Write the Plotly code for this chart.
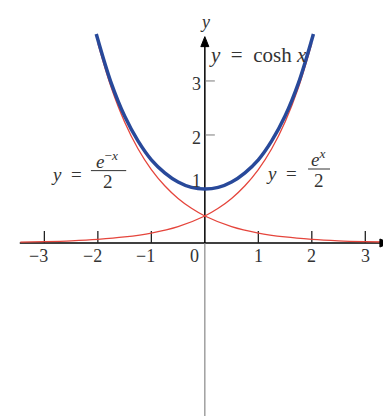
import plotly.graph_objects as go

# Kurvenwerte
x_cosh = [-2.03, -1.75, -1.5, -1.25, -1.0, -0.75, -0.5, -0.25, 0.0,
          0.25, 0.5, 0.75, 1.0, 1.25, 1.5, 1.75, 2.03]
y_cosh = [3.87, 2.96, 2.35, 1.89, 1.54, 1.30, 1.13, 1.03, 1.00,
          1.03, 1.13, 1.30, 1.54, 1.89, 2.35, 2.96, 3.87]

x_exp = [-3.45, -3.0, -2.5, -2.0, -1.5, -1.0, -0.5, 0.0,
         0.25, 0.5, 0.75, 1.0, 1.25, 1.5, 1.75, 2.0]
y_exp = [0.016, 0.025, 0.041, 0.068, 0.112, 0.184, 0.303, 0.500,
         0.642, 0.824, 1.059, 1.359, 1.745, 2.241, 2.877, 3.695]

x_expneg = [-2.0, -1.75, -1.5, -1.25, -1.0, -0.75, -0.5, -0.25,
            0.0, 0.5, 1.0, 1.5, 2.0, 2.5, 3.0, 3.45]
y_expneg = [3.695, 2.877, 2.241, 1.745, 1.359, 1.059, 0.824, 0.642,
            0.500, 0.303, 0.184, 0.112, 0.068, 0.041, 0.025, 0.016]

xticks = [-3, -2, -1, 0, 1, 2, 3]
xtick_labels = ['\u22123', '\u22122', '\u22121', '0', '1', '2', '3']
yticks = [1, 2, 3]
ytick_labels = ['1', '2', '3']

blue = '#28499A'
red = '#E5453C'
txt = '#333333'
serif = 'Liberation Serif'

fig = go.Figure()

fig.add_trace(go.Scatter(x=x_exp, y=y_exp, mode='lines', line=dict(color=red, width=1.3, shape='spline')))
fig.add_trace(go.Scatter(x=x_expneg, y=y_expneg, mode='lines', line=dict(color=red, width=1.3, shape='spline')))
fig.add_trace(go.Scatter(x=x_cosh, y=y_cosh, mode='lines', line=dict(color=blue, width=3.5, shape='spline')))

# Achsen mit Pfeilspitzen
fig.add_shape(type='line', x0=-3.46, x1=3.4, y0=0, y1=0, xref='x', yref='y',
              line=dict(color='black', width=1.5), layer='below')
fig.add_shape(type='line', x0=0, x1=0, y0=0, y1=3.75, xref='x', yref='y',
              line=dict(color='black', width=1.5), layer='below')
fig.add_shape(type='line', x0=0, x1=0, y0=-3.3, y1=0, xref='x', yref='y',
              line=dict(color='#888888', width=1.2), layer='below')
fig.add_shape(type='path', xref='x', yref='y', xsizemode='pixel', ysizemode='pixel',
              xanchor=3.46, yanchor=0, path='M 0,0 L -10,4 L -10,-4 Z',
              fillcolor='black', line=dict(color='black', width=1))
fig.add_shape(type='path', xref='x', yref='y', xsizemode='pixel', ysizemode='pixel',
              xanchor=0, yanchor=3.82, path='M 0,0 L -4,-10 L 4,-10 Z',
              fillcolor='black', line=dict(color='black', width=1))
fig.add_annotation(x=0, y=4.1, text='<i>y</i>', showarrow=False,
                   font=dict(family=serif, size=18, color=txt))
fig.add_annotation(x=3.55, y=0, text='<i>x</i>', showarrow=False, xanchor='left',
                   font=dict(family=serif, size=18, color=txt))

# Striche und Beschriftungen
for v, lab in zip(xticks, xtick_labels):
    if v != 0:
        fig.add_shape(type='line', xref='x', yref='y', x0=v, x1=v,
                      ysizemode='pixel', yanchor=0, y0=0, y1=12,
                      line=dict(color='#222222', width=1.3), layer='below')
    if v < 0:
        anchor, shift = 'right', 6
    elif v == 0:
        anchor, shift = 'right', -4
    else:
        anchor, shift = 'center', 0
    fig.add_annotation(x=v, y=0, text=lab, showarrow=False, xanchor=anchor, xshift=shift,
                       yanchor='top', yshift=-1,
                       font=dict(family=serif, size=18, color=txt))

for v, lab in zip(yticks, ytick_labels):
    if v != 1:
        fig.add_shape(type='line', xref='x', yref='y', y0=v, y1=v,
                      xsizemode='pixel', xanchor=0, x0=1, x1=10,
                      line=dict(color='#999999', width=1.3), layer='below')
    fig.add_annotation(x=0, y=v, text=lab, showarrow=False, xanchor='right', xshift=-2,
                       yshift=8 if v == 1 else -3,
                       font=dict(family=serif, size=18, color=txt))

# Kurvenbeschriftungen
lab_font = dict(family=serif, size=19, color=txt)
fig.add_annotation(x=0.04, y=3.48, text='<i>y</i>&nbsp;&nbsp;=&nbsp;&nbsp;cosh <i>x</i>',
                   showarrow=False, xanchor='left', font=dict(family=serif, size=21, color=txt))

fig.add_annotation(x=-2.26, y=1.26, text='<i>y</i>&nbsp; =', showarrow=False, xanchor='right', font=lab_font)
fig.add_annotation(x=-1.82, y=1.54, text='<i>e</i><sup>\u2212<i>x</i></sup>', showarrow=False, font=lab_font)
fig.add_shape(type='line', xref='x', yref='y', x0=-2.13, x1=-1.47, y0=1.34, y1=1.34,
              line=dict(color=txt, width=1))
fig.add_annotation(x=-1.81, y=1.13, text='2', showarrow=False, font=lab_font)

fig.add_annotation(x=1.76, y=1.29, text='<i>y</i>&nbsp; =', showarrow=False, xanchor='right', font=lab_font)
fig.add_annotation(x=2.12, y=1.57, text='<i>e</i><sup><i>x</i></sup>', showarrow=False, font=lab_font)
fig.add_shape(type='line', xref='x', yref='y', x0=1.93, x1=2.34, y0=1.37, y1=1.37,
              line=dict(color=txt, width=1))
fig.add_annotation(x=2.13, y=1.15, text='2', showarrow=False, font=lab_font)

fig.update_xaxes(visible=False, range=[-3.68, 3.63])
fig.update_yaxes(visible=False, range=[-3.35, 4.35])
fig.update_layout(width=391, height=416, margin=dict(l=0, r=0, t=0, b=0),
                  showlegend=False, plot_bgcolor='white', paper_bgcolor='white')

fig.write_html("out.html")
